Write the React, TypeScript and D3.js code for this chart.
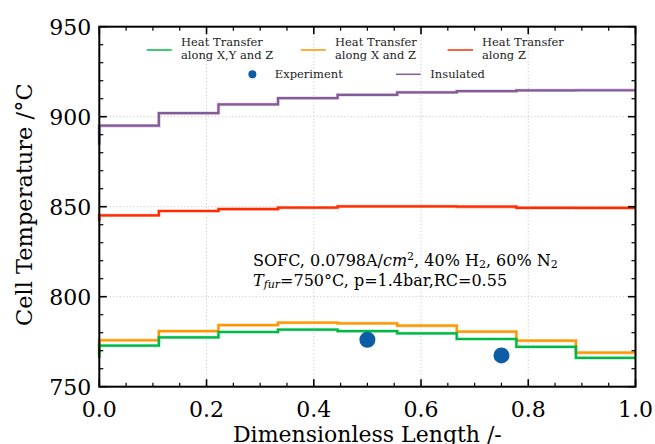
import React from 'react';
import * as d3 from 'd3';

const W = 655;
const H = 444;

// Cell boundaries along the dimensionless length
const cellEdges = [0, 0.1111, 0.2222, 0.3333, 0.4444, 0.5556, 0.6667, 0.7778, 0.8889, 1.0];

// Series values (cell temperatures, °C)
const xyzInlet = 766;
const xyzValues = [772.8, 777.4, 780.4, 781.7, 780.9, 779.6, 776.5, 772.1, 766.0];
const xzInlet = 768;
const xzValues = [775.8, 780.9, 784.2, 785.6, 785.2, 783.9, 780.6, 775.6, 768.9];
const zInlet = 842;
const zValues = [845.2, 847.6, 848.7, 849.5, 850.2, 850.2, 850.0, 849.4, 849.3];
const insInlet = 884.4;
const insValues = [895.0, 902.0, 906.8, 910.3, 912.1, 913.5, 914.2, 914.6, 914.7];

const expX = [0.5, 0.75];
const expY = [776.1, 767.4];

const xMajor = [0, 0.2, 0.4, 0.6, 0.8, 1.0];
const xMajorLabels = ['0.0', '0.2', '0.4', '0.6', '0.8', '1.0'];
const yMajor = [750, 800, 850, 900, 950];
const yMajorLabels = ['750', '800', '850', '900', '950'];

const colors = {
  xyz: '#00B945',
  xz: '#FF9500',
  z: '#FF2C00',
  ins: '#845B97',
  exp: '#0C5DA5',
};

const FONT = "'DejaVu Serif', serif";

export default function App() {
  const left = 99.3;
  const right = 635.5;
  const top = 26.7;
  const bottom = 386.7;

  const x = d3.scaleLinear().domain([0, 1]).range([left, right]);
  const y = d3.scaleLinear().domain([750, 950]).range([bottom, top]);

  const stepLine = d3
    .line<[number, number]>()
    .x((d) => x(d[0]))
    .y((d) => y(d[1]))
    .curve(d3.curveStepAfter);

  const buildPts = (inlet: number, vals: number[]): [number, number][] => {
    const pts: [number, number][] = [[cellEdges[0], inlet]];
    vals.forEach((v, i) => pts.push([cellEdges[i], v]));
    pts.push([cellEdges[cellEdges.length - 1], vals[vals.length - 1]]);
    return pts;
  };

  const series = [
    { key: 'ins', inlet: insInlet, vals: insValues, color: colors.ins },
    { key: 'z', inlet: zInlet, vals: zValues, color: colors.z },
    { key: 'xz', inlet: xzInlet, vals: xzValues, color: colors.xz },
    { key: 'xyz', inlet: xyzInlet, vals: xyzValues, color: colors.xyz },
  ];

  const xMinor = d3.range(0, 1.0001, 0.05).filter((v) => !xMajor.some((m) => Math.abs(m - v) < 1e-6));
  const yMinor = d3.range(750, 950.001, 10).filter((v) => !yMajor.some((m) => Math.abs(m - v) < 1e-6));

  const gridX = xMajor.filter((v) => v > 0 && v < 1);
  const gridY = yMajor.filter((v) => v > 750 && v < 950);

  const majLen = 7.5;
  const minLen = 4;

  return (
    <svg
      width={W}
      height={H}
      style={{ position: 'absolute', left: 0, top: 0, background: '#fff' }}
      fontFamily={FONT}
    >
      <rect x={0} y={0} width={W} height={H} fill="#fff" />
      {/* grid */}
      {gridX.map((v) => (
        <line key={'gx' + v} x1={x(v)} x2={x(v)} y1={top} y2={bottom} stroke="#c4c4c4" strokeWidth={0.9} strokeDasharray="1.2,2.2" />
      ))}
      {gridY.map((v) => (
        <line key={'gy' + v} x1={left} x2={right} y1={y(v)} y2={y(v)} stroke="#c4c4c4" strokeWidth={0.9} strokeDasharray="1.2,2.2" />
      ))}

      {/* series */}
      {series.map((s) => (
        <g key={s.key}>
          <path d={stepLine(buildPts(s.inlet, s.vals)) || ''} fill="none" stroke={s.color} strokeOpacity={0.35} strokeWidth={3.4} />
          <path d={stepLine(buildPts(s.inlet, s.vals)) || ''} fill="none" stroke={s.color} strokeWidth={2.2} />
        </g>
      ))}

      {/* experiment */}
      {expX.map((v, i) => (
        <circle key={'e' + i} cx={x(v)} cy={y(expY[i])} r={8} fill={colors.exp} />
      ))}

      {/* ticks */}
      {xMajor.map((v) => (
        <g key={'xt' + v}>
          <line x1={x(v)} x2={x(v)} y1={bottom} y2={bottom - majLen} stroke="#000" strokeWidth={1.6} />
          <line x1={x(v)} x2={x(v)} y1={top} y2={top + majLen} stroke="#000" strokeWidth={1.6} />
        </g>
      ))}
      {xMinor.map((v) => (
        <g key={'xm' + v}>
          <line x1={x(v)} x2={x(v)} y1={bottom} y2={bottom - minLen} stroke="#000" strokeWidth={1.2} />
          <line x1={x(v)} x2={x(v)} y1={top} y2={top + minLen} stroke="#000" strokeWidth={1.2} />
        </g>
      ))}
      {yMajor.map((v) => (
        <g key={'yt' + v}>
          <line x1={left} x2={left + majLen} y1={y(v)} y2={y(v)} stroke="#000" strokeWidth={1.6} />
          <line x1={right} x2={right - majLen} y1={y(v)} y2={y(v)} stroke="#000" strokeWidth={1.6} />
        </g>
      ))}
      {yMinor.map((v) => (
        <g key={'ym' + v}>
          <line x1={left} x2={left + minLen} y1={y(v)} y2={y(v)} stroke="#000" strokeWidth={1.2} />
          <line x1={right} x2={right - minLen} y1={y(v)} y2={y(v)} stroke="#000" strokeWidth={1.2} />
        </g>
      ))}

      {/* frame */}
      <rect x={left} y={top} width={right - left} height={bottom - top} fill="none" stroke="#000" strokeWidth={2} />

      {/* tick labels */}
      {xMajor.map((v, i) => (
        <text key={'xl' + v} x={x(v)} y={bottom + 30} textAnchor="middle" fontSize={22} fill="#000">
          {xMajorLabels[i]}
        </text>
      ))}
      {yMajor.map((v, i) => (
        <text key={'yl' + v} x={left - 8} y={y(v) + 8} textAnchor="end" fontSize={22} fill="#000">
          {yMajorLabels[i]}
        </text>
      ))}

      {/* axis labels */}
      <text x={(left + right) / 2} y={442} textAnchor="middle" fontSize={22} fill="#000">
        Dimensionless Length /-
      </text>
      <text transform={`translate(32, ${(top + bottom) / 2 - 2}) rotate(-90)`} textAnchor="middle" fontSize={22.5} fill="#000">
        Cell Temperature /°C
      </text>

      {/* legend */}
      <g fontSize={11.5} fill="#222">
        <line x1={146.7} x2={171.7} y1={50} y2={50} stroke={colors.xyz} strokeWidth={1.5} />
        <text x={181} y={46.3}>Heat Transfer</text>
        <text x={181} y={59.3}>along X,Y and Z</text>

        <line x1={300.7} x2={325.9} y1={50} y2={50} stroke={colors.xz} strokeWidth={1.5} />
        <text x={335} y={46.3}>Heat Transfer</text>
        <text x={335} y={59.3}>along X and Z</text>

        <line x1={447.6} x2={473} y1={50} y2={50} stroke={colors.z} strokeWidth={1.5} />
        <text x={482} y={46.3}>Heat Transfer</text>
        <text x={482} y={59.3}>along Z</text>

        <circle cx={252.4} cy={74.3} r={4} fill={colors.exp} />
        <text x={274.8} y={78.4}>Experiment</text>

        <line x1={395.9} x2={420.7} y1={74.3} y2={74.3} stroke={colors.ins} strokeWidth={1.5} />
        <text x={430.3} y={78.4}>Insulated</text>
      </g>

      {/* annotation */}
      <g fontSize={16} fill="#000">
        <text x={253} y={266}>
          SOFC, 0.0798A/<tspan fontStyle="italic">cm</tspan>
          <tspan fontSize={11} dy={-6.5}>2</tspan>
          <tspan dy={6.5}>, 40% H</tspan>
          <tspan fontSize={11} dy={2}>2</tspan>
          <tspan dy={-2}>, 60% N</tspan>
          <tspan fontSize={11} dy={2}>2</tspan>
        </text>
        <text x={253} y={285.5}>
          <tspan fontStyle="italic">T</tspan>
          <tspan fontStyle="italic" fontSize={11} dy={2.5}>fur</tspan>
          <tspan dy={-2.5}>=750°C, p=1.4bar,RC=0.55</tspan>
        </text>
      </g>
    </svg>
  );
}
